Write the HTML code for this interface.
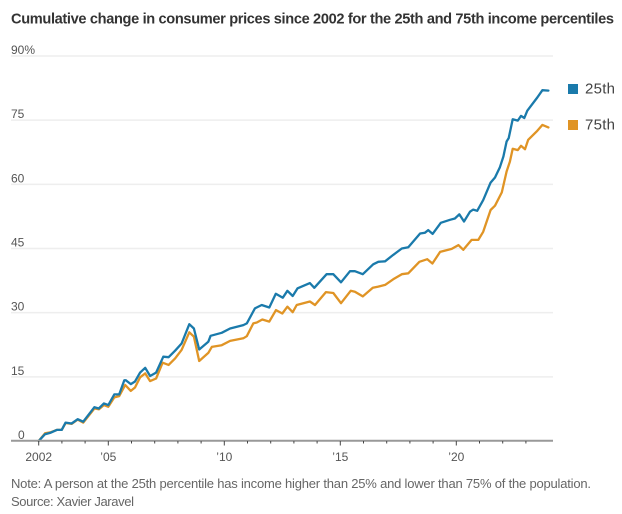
<!DOCTYPE html>
<html lang="en">
<head>
<meta charset="utf-8">
<title>Cumulative change in consumer prices</title>
<style>
html,body{margin:0;padding:0;background:#fff;width:622px;height:514px;overflow:hidden}
svg{display:block}
text{font-family:"Liberation Sans","DejaVu Sans",sans-serif}
</style>
</head>
<body>
<svg id="chart" width="622" height="514" viewBox="0 0 622 514" xmlns="http://www.w3.org/2000/svg">
  <text x="11" y="23.5" font-size="14.6" font-weight="700" fill="#333" textLength="603" lengthAdjust="spacing">Cumulative change in consumer prices since 2002 for the 25th and 75th income percentiles</text>
  <g id="grid"></g>
  <g id="yLabels"></g>
  <g id="series"></g>
  <g id="xAxis"></g>
  <g>
    <rect x="568" y="84" width="10" height="10" fill="#1a7aab"></rect>
    <text x="585" y="93.5" font-size="15" fill="#444" textLength="30" lengthAdjust="spacing">25th</text>
    <rect x="568" y="120" width="10" height="10" fill="#e09425"></rect>
    <text x="585" y="129.5" font-size="15" fill="#444" textLength="30" lengthAdjust="spacing">75th</text>
  </g>
  <text x="11" y="488" font-size="13" fill="#666" textLength="580" lengthAdjust="spacing">Note: A person at the 25th percentile has income higher than 25% and lower than 75% of the population.</text>
  <text x="11" y="506" font-size="13" fill="#666" textLength="123" lengthAdjust="spacing">Source: Xavier Jaravel</text>
</svg>
<script>
const yTicks = [0, 15, 30, 45, 60, 75, 90];
const yTickLabels = ["0", "15", "30", "45", "60", "75", "90%"];
const xMajorYears = [2002, 2005, 2010, 2015, 2020];
const xMajorLabels = ["2002", "\u201905", "\u201910", "\u201915", "\u201920"];
const xMinorYears = [2003, 2004, 2006, 2007, 2008, 2009, 2011, 2012, 2013, 2014, 2016, 2017, 2018, 2019, 2021, 2022, 2023];

const dates25 = [2002.00,2002.27,2002.49,2002.78,2002.99,2003.16,2003.42,2003.68,2003.92,2004.40,2004.59,2004.81,2005.00,2005.26,2005.47,2005.69,2005.76,2005.97,2006.15,2006.37,2006.59,2006.80,2007.06,2007.37,2007.60,2007.88,2008.16,2008.49,2008.69,2008.92,2009.31,2009.41,2009.89,2010.25,2010.82,2010.97,2011.32,2011.61,2011.94,2012.22,2012.52,2012.72,2012.95,2013.16,2013.69,2013.88,2014.41,2014.70,2015.03,2015.42,2015.63,2015.97,2016.42,2016.64,2016.93,2017.28,2017.65,2017.93,2018.44,2018.65,2018.79,2018.98,2019.33,2019.73,2019.94,2020.13,2020.33,2020.59,2020.73,2020.90,2021.16,2021.48,2021.67,2021.88,2022.03,2022.17,2022.26,2022.43,2022.65,2022.79,2022.93,2023.06,2023.49,2023.71,2023.97];
const values25 = [0,1.6,1.9,2.6,2.6,4.3,4.1,5.1,4.5,7.9,7.6,8.8,8.4,10.9,10.9,14.2,14.2,13.3,13.9,16,17.1,15.2,16,19.7,19.6,21.1,22.8,27.3,26.3,21.4,23.2,24.6,25.3,26.3,27.1,27.5,31,31.8,31.2,34.4,33.5,35.1,33.9,35.7,36.9,35.8,39,39,37.1,39.7,39.7,39,41.3,41.9,42,43.5,45,45.3,48.5,48.7,49.3,48.4,51,51.7,52,53,51.3,53.6,54.1,53.8,56.3,60.4,61.6,64,66.5,70,70.8,75.2,74.9,76,75.5,77.2,80.3,82,81.9];

const dates75 = [2002.00,2002.27,2002.49,2002.78,2002.99,2003.16,2003.42,2003.68,2003.92,2004.40,2004.59,2004.81,2005.00,2005.26,2005.47,2005.73,2005.97,2006.15,2006.37,2006.59,2006.80,2007.06,2007.34,2007.60,2007.88,2008.16,2008.49,2008.69,2008.92,2009.31,2009.46,2009.89,2010.25,2010.82,2010.97,2011.25,2011.40,2011.64,2011.94,2012.23,2012.50,2012.72,2012.95,2013.12,2013.69,2013.91,2014.38,2014.70,2015.03,2015.45,2015.63,2015.97,2016.40,2016.64,2016.93,2017.28,2017.65,2017.93,2018.41,2018.75,2018.97,2019.30,2019.80,2020.09,2020.30,2020.66,2020.95,2021.16,2021.48,2021.67,2021.96,2022.17,2022.31,2022.43,2022.65,2022.79,2022.96,2023.10,2023.49,2023.71,2023.97];
const values75 = [0,1.8,2,2.6,2.6,4.2,4,5,4.3,7.6,7.4,8.4,8,10.2,10.5,13.1,11.7,12.5,14.9,15.8,14,14.6,18.3,17.8,19.3,21.3,25.4,24.4,18.7,20.6,22,22.4,23.4,24,24.5,27.5,27.7,28.4,27.9,30.6,29.8,31.4,30.1,31.8,32.6,31.8,34.8,34.6,32.2,35.1,34.9,33.8,35.8,36.1,36.5,37.8,39,39.2,41.9,42.5,41.5,44.2,44.9,45.8,44.7,47,47,48.9,54,55,58.1,63,65.3,68.3,68,69,68.2,70.4,72.5,73.9,73.3];

const SVG_NS = "http://www.w3.org/2000/svg";
function xScale(year) { return 38.7 + (year - 2002) * 23.2; }
function yScale(value) { return 441 - value * 4.278; }
function make(tag, attrs, parent) {
  const el = document.createElementNS(SVG_NS, tag);
  for (const key in attrs) el.setAttribute(key, attrs[key]);
  parent.appendChild(el);
  return el;
}

const gridGroup = document.getElementById("grid");
const yLabelGroup = document.getElementById("yLabels");
yTicks.forEach(function (tick, i) {
  if (tick !== 0) {
    const line = make("line", {x1: 11, x2: 553, y1: yScale(tick), y2: yScale(tick), stroke: "#eeeeee", "stroke-width": 1.5}, gridGroup);
    
    
  }
  const label = make("text", {x: tick === 0 ? 18 : 11, y: yScale(tick) - 2, "font-size": 12, fill: "#555"}, yLabelGroup);
  
  
  label.textContent = yTickLabels[i];
});

const seriesGroup = document.getElementById("series");
function drawLine(dates, values, color, name) {
  const points = dates.map(function (d, i) { return xScale(d).toFixed(1) + "," + yScale(values[i]).toFixed(1); }).join(" ");
  const path = make("polyline", {points: points, fill: "none", stroke: color, "stroke-width": 2.3, "stroke-linejoin": "round", "stroke-linecap": "round"}, seriesGroup);
  
  
}
drawLine(dates75, values75, "#e09425", "line-75th-percentile");
drawLine(dates25, values25, "#1a7aab", "line-25th-percentile");

const xGroup = document.getElementById("xAxis");
const axisLine = make("line", {x1: 11, x2: 553, y1: 440.8, y2: 440.8, stroke: "#999", "stroke-width": 2}, xGroup);


xMinorYears.forEach(function (year) {
  const tick = make("line", {x1: xScale(year), x2: xScale(year), y1: 441, y2: 443.5, stroke: "#444", "stroke-width": 1}, xGroup);
  
  
});
xMajorYears.forEach(function (year, i) {
  const tick = make("line", {x1: xScale(year), x2: xScale(year), y1: 441, y2: 445.5, stroke: "#444", "stroke-width": 1}, xGroup);
  
  
  const label = make("text", {x: xScale(year), y: 461, "font-size": 12, fill: "#555", "text-anchor": "middle"}, xGroup);
  
  
  label.textContent = xMajorLabels[i];
});
</script>
</body>
</html>
